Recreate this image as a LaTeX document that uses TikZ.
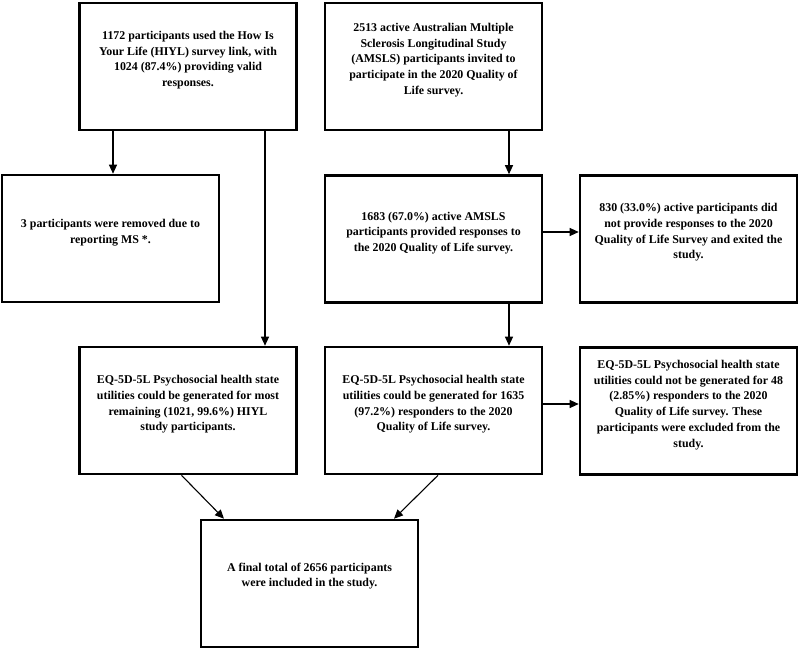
\documentclass[tikz,border=0pt]{standalone}
\usepackage{fontspec}
\setmainfont{Liberation Serif}
\usetikzlibrary{arrows.meta}
\begin{document}
\begin{tikzpicture}[x=1pt,y=-1pt,
  box/.style={draw=black, line width=2.6pt, minimum width=217pt, minimum height=127pt, inner sep=0pt},
  txt/.style={align=center, inner sep=0pt, font=\fontsize{11.9}{15.7}\selectfont\bfseries},
  arr/.style={draw=black, line width=1.1pt, -{Triangle[length=9pt,width=8pt]}}]
\useasboundingbox (0,0) rectangle (800,650);
\fill[white] (0,0) rectangle (800,650);
% boxes
\node[box] (A) at (188,66.5) {};
\node[box] (B) at (433.5,66.5) {};
\node[box] (C) at (110.5,238.5) {};
\node[box] (D) at (433.5,239) {};
\node[box] (E) at (688.5,239) {};
\node[box] (F) at (188,410.5) {};
\node[box] (G) at (433.5,410.5) {};
\node[box] (H) at (688.5,411) {};
\node[box] (I) at (309.5,583.5) {};
% texts
\node[txt] (At) at ([yshift=6.5pt]A.center) {1172 participants used the How Is\\Your Life (HIYL) survey link, with\\1024 (87.4\%) providing valid\\responses.};
\node[txt] (Bt) at ([yshift=6.5pt]B.center) {2513 active Australian Multiple\\Sclerosis Longitudinal Study\\(AMSLS) participants invited to\\participate in the 2020 Quality of\\Life survey.};
\node[txt] (Ct) at ([yshift=6pt]C.center) {3 participants were removed due to\\reporting MS *.};
\node[txt] (Dt) at ([yshift=6pt]D.center) {1683 (67.0\%) active AMSLS\\participants provided responses to\\the 2020 Quality of Life survey.};
\node[txt] (Et) at ([yshift=6.5pt]E.center) {830 (33.0\%) active participants did\\not provide responses to the 2020\\Quality of Life Survey and exited the\\study.};
\node[txt] (Ft) at ([yshift=6pt]F.center) {EQ-5D-5L Psychosocial health state\\utilities could be generated for most\\remaining (1021, 99.6\%) HIYL\\study participants.};
\node[txt] (Gt) at ([yshift=6pt]G.center) {EQ-5D-5L Psychosocial health state\\utilities could be generated for 1635\\(97.2\%) responders to the 2020\\Quality of Life survey.};
\node[txt] (Ht) at ([yshift=6pt]H.center) {EQ-5D-5L Psychosocial health state\\utilities could not be generated for 48\\(2.85\%) responders to the 2020\\Quality of Life survey. These\\participants were excluded from the\\study.};
\node[txt] (It) at ([yshift=7.5pt]I.center) {A final total of 2656 participants\\were included in the study.};
% connectors
\draw[arr] ([xshift=-75pt]A.south) -- ([xshift=-75pt]A.south |- C.north);
\draw[arr] ([xshift=77pt]A.south) -- ([xshift=77pt]A.south |- F.north);
\draw[arr] ([xshift=75.5pt]B.south) -- ([xshift=75.5pt]B.south |- D.north);
\draw[arr] ([xshift=75.5pt]D.south) -- ([xshift=75.5pt]D.south |- G.north);
\draw[arr] ([yshift=7pt]D.east) -- ([yshift=7pt]D.east -| E.west);
\draw[arr] ([yshift=6.5pt]G.east) -- ([yshift=6.5pt]G.east -| H.west);
\draw[arr] ([xshift=-6.5pt]F.south) -- ([xshift=-85.5pt]I.north);
\draw[arr] ([xshift=4.5pt]G.south) -- ([xshift=84.5pt]I.north);
\end{tikzpicture}
\end{document}
